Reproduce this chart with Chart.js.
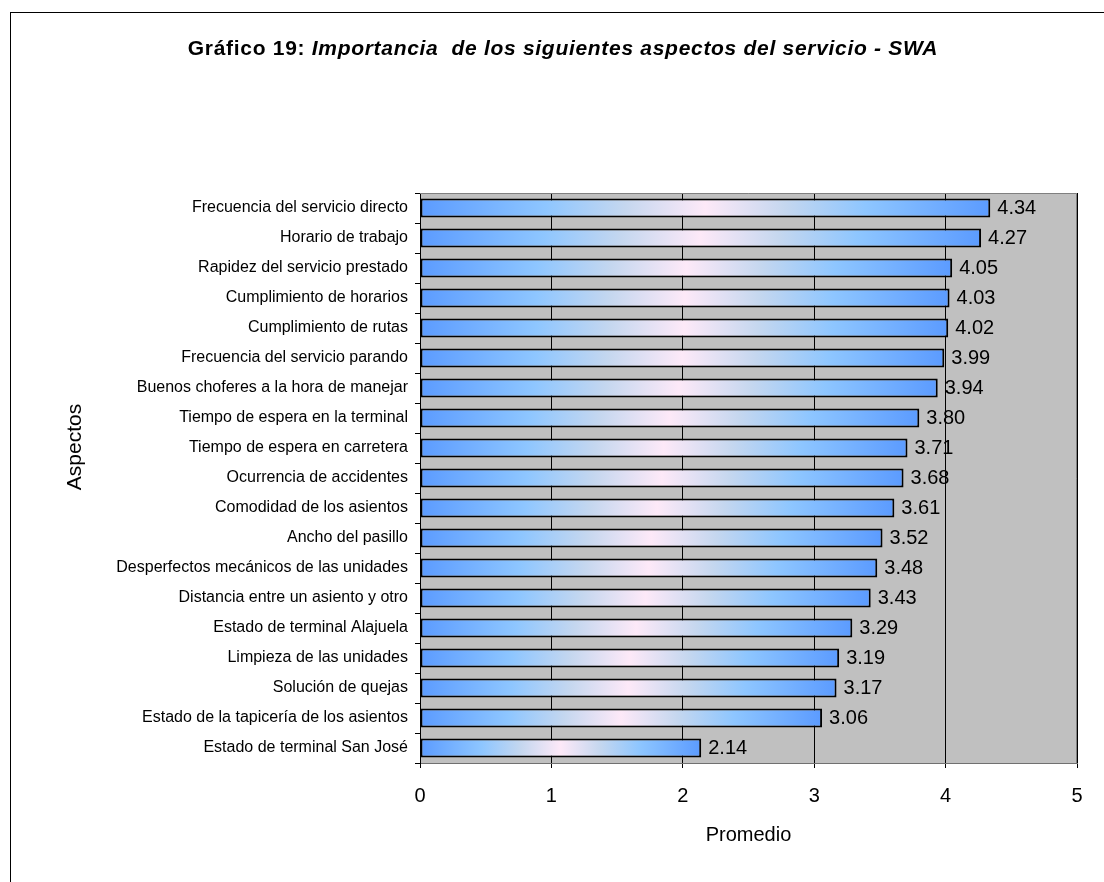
<!DOCTYPE html>
<html>
<head>
<meta charset="utf-8">
<script src="https://cdn.jsdelivr.net/npm/chart.js@4/dist/chart.umd.min.js"></script>
<style>
  html, body { margin: 0; padding: 0; background: #fff; }
  #wrap { position: relative; width: 1104px; height: 882px; }
  #frame { position: absolute; left: 10px; top: 12px; width: 1100px; height: 880px; border: 1px solid #000; box-sizing: border-box; }
</style>
</head>
<body>
<div id="wrap">
  <div id="frame"></div>
  <canvas id="chart" width="1104" height="882"></canvas>
</div>
<script>
var aspectos = [
  "Frecuencia del servicio directo",
  "Horario de trabajo",
  "Rapidez del servicio prestado",
  "Cumplimiento de horarios",
  "Cumplimiento de rutas",
  "Frecuencia del servicio parando",
  "Buenos choferes a la hora de manejar",
  "Tiempo de espera en la terminal",
  "Tiempo de espera en carretera",
  "Ocurrencia de accidentes",
  "Comodidad de los asientos",
  "Ancho del pasillo",
  "Desperfectos mecánicos de las unidades",
  "Distancia entre un asiento y otro",
  "Estado de terminal Alajuela",
  "Limpieza de las unidades",
  "Solución de quejas",
  "Estado de la tapicería de los asientos",
  "Estado de terminal San José"
];
var promedios = [4.34, 4.27, 4.05, 4.03, 4.02, 3.99, 3.94, 3.80, 3.71, 3.68, 3.61, 3.52, 3.48, 3.43, 3.29, 3.19, 3.17, 3.06, 2.14];
var ticksX = [0, 1, 2, 3, 4, 5];

var FONT = "'Liberation Sans', Arial, sans-serif";

// each bar gets its own left-to-right gradient: blue, pale pink in the middle, blue again
function barGradient(ctx) {
  var chart = ctx.chart;
  if (!chart.chartArea || ctx.type !== "data") return "#5b9bff";
  var x = chart.scales.x;
  var x0 = x.getPixelForValue(0);
  var x1 = x.getPixelForValue(ctx.raw);
  var g = chart.ctx.createLinearGradient(x0, 0, x1, 0);
  g.addColorStop(0, "#5b9bff");
  g.addColorStop(0.22, "#8ec6ff");
  g.addColorStop(0.36, "#c5d7ef");
  g.addColorStop(0.5, "#fde9f8");
  g.addColorStop(0.64, "#c5d7ef");
  g.addColorStop(0.78, "#8ec6ff");
  g.addColorStop(1, "#5b9bff");
  return g;
}

var plotBox = {
  id: "plotBox",
  beforeDraw: function (chart) {
    var a = chart.chartArea, c = chart.ctx;
    c.save();
    c.fillStyle = "#c0c0c0";
    c.fillRect(a.left, a.top, a.right - a.left, a.bottom - a.top);
    c.restore();
  },
  afterDraw: function (chart) {
    var a = chart.chartArea, c = chart.ctx;
    c.save();
    c.strokeStyle = "#808080";
    c.lineWidth = 1;
    c.beginPath();
    c.moveTo(a.left, a.top + 0.5);
    c.lineTo(a.right - 0.5, a.top + 0.5);
    c.lineTo(a.right - 0.5, a.bottom);
    c.stroke();

    // heading: bold part then bold italic part
    c.fillStyle = "#000";
    c.textBaseline = "middle";
    c.textAlign = "left";
    c.letterSpacing = "0.7px";
    var p1 = "Gráfico 19: ";
    var p2 = "Importancia  de los siguientes aspectos del servicio - SWA";
    c.font = "bold 21px " + FONT;
    var w1 = c.measureText(p1).width;
    c.font = "italic bold 21px " + FONT;
    var w2 = c.measureText(p2).width;
    var sx = 563 - (w1 + w2) / 2;
    c.font = "bold 21px " + FONT;
    c.fillText(p1, sx, 49);
    c.font = "italic bold 21px " + FONT;
    c.fillText(p2, sx + w1, 49);

    // vertical axis name
    c.letterSpacing = "0px";
    c.font = "21px " + FONT;
    c.translate(75, 447);
    c.rotate(-Math.PI / 2);
    c.textAlign = "center";
    c.fillText("Aspectos", 0, 0);
    c.restore();
  }
};

var valueLabels = {
  id: "valueLabels",
  afterDatasetsDraw: function (chart) {
    var c = chart.ctx;
    var meta = chart.getDatasetMeta(0);
    c.save();
    c.font = "20px " + FONT;
    c.fillStyle = "#000";
    c.textAlign = "left";
    c.textBaseline = "middle";
    meta.data.forEach(function (bar, i) {
      c.fillText(promedios[i].toFixed(2), bar.x + 7, bar.y);
    });
    c.restore();
  }
};

new Chart(document.getElementById("chart").getContext("2d"), {
  type: "bar",
  data: {
    labels: aspectos,
    datasets: [
      {
        data: promedios,
        backgroundColor: barGradient,
        borderColor: "#000",
        borderWidth: 2,
        borderSkipped: false,
        barPercentage: 0.64,
        categoryPercentage: 1
      }
    ]
  },
  options: {
    indexAxis: "y",
    responsive: false,
    animation: false,
    events: [],
    layout: { padding: { top: 193, right: 27, left: 0, bottom: 0 } },
    plugins: {
      legend: { display: false },
      title: { display: false },
      tooltip: { enabled: false }
    },
    scales: {
      x: {
        min: 0,
        max: 5,
        afterBuildTicks: function (scale) {
          scale.ticks = ticksX.map(function (v) { return { value: v }; });
        },
        afterFit: function (scale) { scale.height = 119; },
        grid: { color: "#000", lineWidth: 1, tickLength: 5, drawOnChartArea: true, drawTicks: true },
        border: { color: "#707070", width: 1 },
        ticks: { color: "#000", font: { family: FONT, size: 20 }, padding: 16 },
        title: {
          display: true,
          text: "Promedio",
          color: "#000",
          font: { family: FONT, size: 20 },
          padding: { top: 0, bottom: 35 }
        }
      },
      y: {
        afterFit: function (scale) { scale.width = 420; },
        grid: { color: "#000", drawOnChartArea: false, drawTicks: true, tickLength: 5, offset: true },
        border: { color: "#000", width: 1 },
        ticks: { color: "#000", font: { family: FONT, size: 16 }, padding: 7, autoSkip: false }
      }
    }
  },
  plugins: [plotBox, valueLabels]
});
</script>
</body>
</html>
